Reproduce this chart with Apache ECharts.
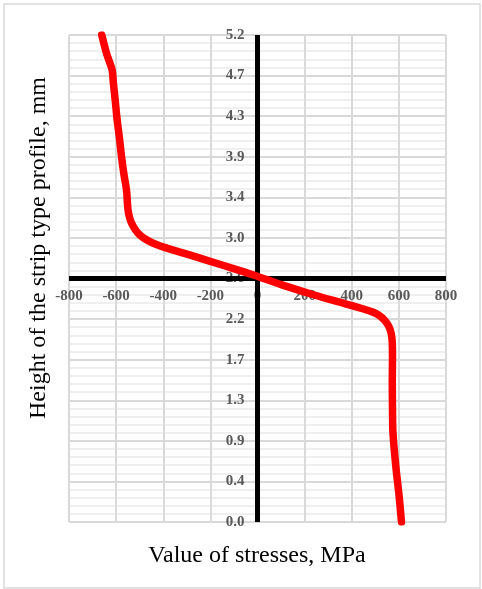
<!DOCTYPE html>
<html>
<head>
<meta charset="utf-8">
<script src="https://cdn.jsdelivr.net/npm/echarts@6/dist/echarts.min.js"></script>
<style>html,body{margin:0;padding:0;background:#fff}#c{width:482px;height:589px}</style>
</head>
<body>
<div id="c"></div>
<script>
// Stress values, MPa (x)
const stress = [-661, -640, -617, -612, -604, -596, -586, -577, -566, -556, -549, -535, -499, -429, -288, -147, -20, 107, 248, 389, 502, 551, 570, 573, 572, 573, 575, 587, 600, 611];
// Height of the strip profile, mm (y)
const height = [5.16, 4.96, 4.79, 4.66, 4.47, 4.27, 4.07, 3.87, 3.67, 3.52, 3.30, 3.17, 3.04, 2.94, 2.83, 2.72, 2.62, 2.51, 2.40, 2.30, 2.21, 2.10, 1.96, 1.75, 1.49, 1.19, 0.94, 0.59, 0.30, 0.0];
// Axis ticks
const xTicks = [-800, -600, -400, -200, 0, 200, 400, 600, 800];
const yMin = 0, yMax = 5.16, yInterval = 0.43;
const xCross = 0;     // vertical axis crosses here
const yCross = 2.58;  // horizontal axis crosses here

const FONT = "'Liberation Serif','Times New Roman',serif";
const W = 482, H = 589;
const G = {left: 69, right: 36, top: 35, bottom: 67};
const gw = W - G.left - G.right, gh = H - G.top - G.bottom;
const xMin = xTicks[0], xMax = xTicks[xTicks.length - 1];
// offsets of the crossing axes from the grid edges (pixels)
const xAxisOffset = gh * (yCross - yMin) / (yMax - yMin);
const yAxisOffset = gw * (xCross - xMin) / (xMax - xMin);

const chart = echarts.init(document.getElementById('c'), null, {renderer: 'canvas'});
const data = stress.map((s, i) => [s, height[i]]);
const fmt1 = v => (Math.round(v * 10 + 1e-6) / 10).toFixed(1);

chart.setOption({
  animation: false,
  grid: Object.assign({containLabel: false}, G),
  xAxis: {
    type: 'value', min: xMin, max: xMax, interval: 200,
    axisLine: {show: false},
    axisTick: {show: false},
    axisLabel: {color: '#595959', fontFamily: FONT, fontWeight: 'bold', fontSize: 15, margin: -xAxisOffset + 10},
    splitLine: {show: true, lineStyle: {color: '#d9d9d9', width: 2}}
  },
  yAxis: {
    type: 'value', min: yMin, max: yMax, interval: yInterval,
    axisLine: {show: false},
    axisTick: {show: false},
    axisLabel: {color: '#595959', fontFamily: FONT, fontWeight: 'bold', fontSize: 15, margin: -yAxisOffset + 13,
      formatter: fmt1},
    splitLine: {show: true, lineStyle: {color: '#d9d9d9', width: 2}},
    minorTick: {show: false, splitNumber: 5},
    minorSplitLine: {show: true, lineStyle: {color: '#efefef', width: 2}}
  },
  series: [{
    type: 'line', data: data, showSymbol: false, smooth: 0.3, z: 5,
    lineStyle: {color: '#ff0000', width: 7.5, cap: 'round', join: 'round'},
    markLine: {
      silent: true, symbol: 'none', label: {show: false}, z: 3,
      lineStyle: {color: '#000', width: 5, type: 'solid'},
      data: [{xAxis: xCross}, {yAxis: yCross}]
    }
  }],
  graphic: [
    {type: 'rect', shape: {x: 4, y: 4, width: 476, height: 584}, style: {fill: null, stroke: '#d9d9d9', lineWidth: 1.5}, z: -10},
    {type: 'text', x: 39, y: 248, rotation: Math.PI / 2,
      style: {text: 'Height of the strip type profile, mm', font: '24px ' + FONT, fill: '#000', textAlign: 'center', textVerticalAlign: 'middle'}},
    {type: 'text', x: 257, y: 556,
      style: {text: 'Value of stresses, MPa', font: '24px ' + FONT, fill: '#000', textAlign: 'center', textVerticalAlign: 'middle'}}
  ]
});
</script>
</body>
</html>
